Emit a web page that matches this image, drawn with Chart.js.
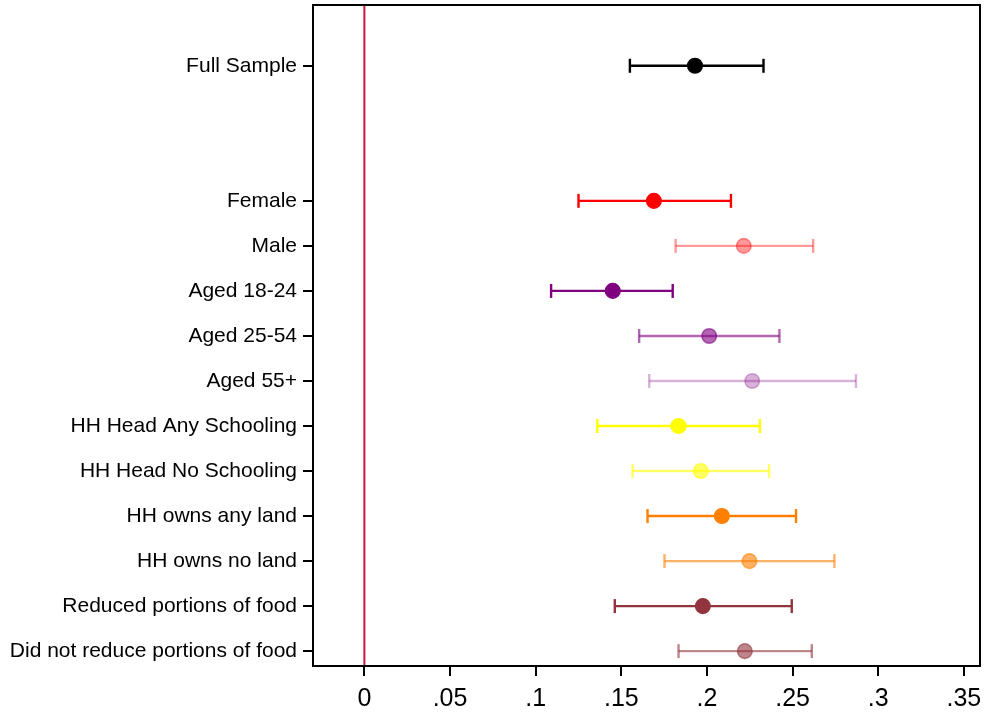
<!DOCTYPE html>
<html>
<head>
<meta charset="utf-8">
<script src="https://cdn.jsdelivr.net/npm/chart.js@4"></script>
<style>
  html, body { margin: 0; padding: 0; background: #fff; }
  #wrap { width: 985px; height: 714px; }
</style>
</head>
<body>
<div id="wrap"><canvas id="myChart" width="985" height="714"></canvas></div>
<script>
const categories = [
  "Full Sample",
  "Female",
  "Male",
  "Aged 18-24",
  "Aged 25-54",
  "Aged 55+",
  "HH Head Any Schooling",
  "HH Head No Schooling",
  "HH owns any land",
  "HH owns no land",
  "Reduced portions of food",
  "Did not reduce portions of food",
];
const rowPositions = [0, 3, 4, 5, 6, 7, 8, 9, 10, 11, 12, 13];
const estimates = [0.193, 0.169, 0.2215, 0.145, 0.2013, 0.2264, 0.1834, 0.1964, 0.2087, 0.2248, 0.1976, 0.2221];
const lowerCI = [0.155, 0.125, 0.1817, 0.109, 0.1604, 0.1663, 0.136, 0.1566, 0.1653, 0.1752, 0.1462, 0.1834];
const upperCI = [0.233, 0.214, 0.262, 0.180, 0.2423, 0.287, 0.2309, 0.2363, 0.252, 0.2744, 0.2495, 0.2612];
const xTicks = [0, 0.05, 0.1, 0.15, 0.2, 0.25, 0.3, 0.35];

const markColors = [
  "rgb(0,0,0)",
  "rgb(255,0,0)",
  "rgba(255,0,0,0.4)",
  "rgb(128,0,128)",
  "rgba(128,0,128,0.6)",
  "rgba(128,0,128,0.3)",
  "rgb(255,255,0)",
  "rgba(255,255,0,0.6)",
  "rgb(255,127,0)",
  "rgba(255,127,0,0.6)",
  "rgb(146,52,62)",
  "rgba(146,52,62,0.6)",
];

const yMin = -1.35;
const yMax = 13.33;

function tickLabel(value) {
  if (value === 0) return "0";
  return String(Number(value.toFixed(2))).replace(/^0/, "");
}

function buildDatasets() {
  const datasets = [];
  // reference line at zero
  datasets.push({
    type: "line",
    data: [{ x: 0, y: yMin }, { x: 0, y: yMax }],
    borderColor: "rgb(205,20,60)",
    borderWidth: 2,
    pointRadius: 0,
    order: 3,
  });
  categories.forEach((name, i) => {
    datasets.push({
      type: "line",
      label: name + " CI",
      data: [
        { x: lowerCI[i], y: rowPositions[i] },
        { x: upperCI[i], y: rowPositions[i] },
      ],
      borderColor: markColors[i],
      borderWidth: 2.4,
      pointStyle: "line",
      rotation: 90,
      pointRadius: 7,
      pointBorderWidth: 2.4,
      pointBorderColor: markColors[i],
      pointHoverRadius: 7,
      order: 2,
    });
    datasets.push({
      type: "scatter",
      label: name,
      data: [{ x: estimates[i], y: rowPositions[i] }],
      backgroundColor: markColors[i],
      borderColor: markColors[i],
      borderWidth: 1.5,
      pointRadius: 7.3,
      order: 1,
    });
  });
  return datasets;
}

const frame = {
  id: "frame",
  afterDraw(chart) {
    const { ctx, chartArea } = chart;
    ctx.save();
    ctx.strokeStyle = "#000";
    ctx.lineWidth = 2;
    ctx.strokeRect(chartArea.left, chartArea.top, chartArea.right - chartArea.left, chartArea.bottom - chartArea.top);
    ctx.restore();
  },
};

const config = {
  data: { datasets: buildDatasets() },
  options: {
    responsive: false,
    animation: false,
    layout: { autoPadding: false, padding: { top: 5, right: 5, left: 0, bottom: 0 } },
    plugins: { legend: { display: false }, tooltip: { enabled: false } },
    scales: {
      x: {
        type: "linear",
        min: -0.03,
        max: 0.3594,
        afterBuildTicks: (scale) => {
          scale.ticks = xTicks.map((v) => ({ value: v }));
        },
        afterFit: (scale) => {
          scale.height = 48;
          scale.paddingLeft = 0;
          scale.paddingRight = 0;
        },
        ticks: {
          callback: (v) => tickLabel(v),
          color: "#000",
          font: { family: "Liberation Sans, Arial", size: 25 },
          padding: 8,
          maxRotation: 0,
        },
        grid: {
          display: true,
          drawOnChartArea: false,
          drawTicks: true,
          tickLength: 10,
          color: "#000",
          lineWidth: 2,
        },
        border: { display: true, color: "#000", width: 2 },
      },
      y: {
        type: "linear",
        reverse: true,
        min: yMin,
        max: yMax,
        afterBuildTicks: (scale) => {
          scale.ticks = rowPositions.map((v) => ({ value: v }));
        },
        afterFit: (scale) => {
          scale.width = 313;
          scale.paddingTop = 0;
          scale.paddingBottom = 0;
        },
        ticks: {
          callback: (v) => categories[rowPositions.indexOf(v)],
          color: "#000",
          font: { family: "Liberation Sans, Arial", size: 21 },
          padding: 6,
        },
        grid: {
          display: true,
          drawOnChartArea: false,
          drawTicks: true,
          tickLength: 10,
          color: "#000",
          lineWidth: 2,
        },
        border: { display: true, color: "#000", width: 2 },
      },
    },
  },
  plugins: [frame],
};

window.chart = new Chart(document.getElementById("myChart"), config);
</script>
</body>
</html>
